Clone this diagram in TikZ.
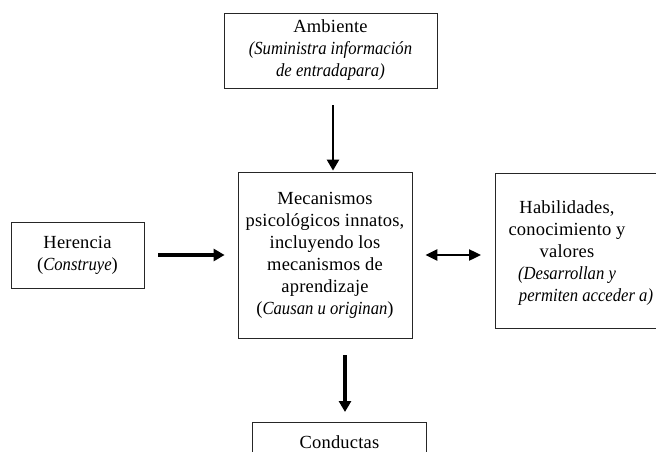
\documentclass[tikz,border=0pt]{standalone}
\usepackage{fontspec}
\setmainfont{Liberation Serif}[UprightFeatures={LetterSpace=1.0}, ItalicFeatures={FakeStretch=0.9}]
\usetikzlibrary{arrows.meta}

\begin{document}
\begin{tikzpicture}[x=1pt, y=-1pt]

% definitions
\tikzstyle{box} = [rectangle, draw=black!85, line width=0.8pt, text centered, align=center, font=\fontsize{18.5}{22}\selectfont]

\tikzstyle{label} = [align=center, font=\fontsize{18.5}{22}\selectfont]

\tikzstyle{arrow} = [line width=3.6pt, -{Triangle[length=11pt, width=12pt]}]

\tikzstyle{darrow} = [line width=2.4pt, {Triangle[length=12pt, width=11pt]}-{Triangle[length=12pt, width=11pt]}]

\useasboundingbox (0,0) rectangle (656,452);
\clip (0,0) rectangle (656,452);

% the graph
\node (amb) [box, minimum width=213pt, minimum height=75pt] at (330.5,50.5) {Ambiente\\ \textit{(Suministra información}\\ \textit{de entradapara)}};

\node (meca) [box, minimum width=174pt, minimum height=166pt] at (325,255) {Mecanismos\\ psicológicos innatos,\\ incluyendo los\\ mecanismos de\\ aprendizaje\\ (\textit{Causan u originan})};

\node (here) [box, minimum width=133pt, minimum height=66pt] at (77.5,255) {Herencia\\ (\textit{Construye})};

\node (habi) [box, anchor=north west, minimum width=180pt, minimum height=155pt] at (495,173) {};
\node (habitext) [label] at (567,253) {Habilidades,\\ conocimiento y\\ valores\\ \textit{(Desarrollan y}\\ \hspace*{38pt}\textit{permiten acceder a)}};

\node (cond) [box, anchor=north west, minimum width=174pt, minimum height=40pt] at (252,422) {Conductas};


\draw [arrow, line width=2.4pt, shorten <=17pt, shorten >=1pt] ([xshift=2.5pt]amb.south) -- ([xshift=2.5pt]amb.south |- meca.north);
\draw [arrow, line width=4pt, shorten <=14pt, shorten >=13pt] (here) -- (meca);
\draw [darrow, shorten <=13pt, shorten >=14pt] (meca.east) -- (meca.east -| habi.west);
\draw [arrow, shorten <=17pt, shorten >=10pt] ([xshift=20pt]meca.south) -- ([xshift=20pt]meca.south |- cond.north);

\end{tikzpicture}
\end{document}
